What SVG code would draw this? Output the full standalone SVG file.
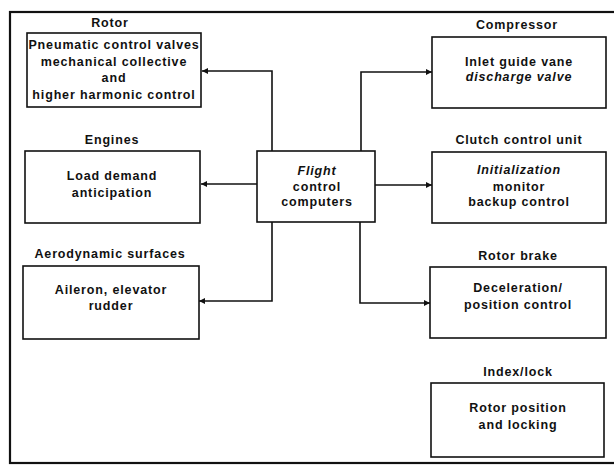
<svg xmlns="http://www.w3.org/2000/svg" width="614" height="465" viewBox="0 0 614 465">
<style>
.box{fill:#fff;stroke:#111;stroke-width:1.6}
.frame{fill:none;stroke:#111;stroke-width:2.2}
.conn{fill:none;stroke:#111;stroke-width:1.6}
text{font-family:"Liberation Sans",Arial,Helvetica,sans-serif;font-weight:bold;font-size:12.5px;letter-spacing:0.85px;fill:#111;text-anchor:middle;dominant-baseline:central}
.it{font-style:italic}
</style>
<defs>
<marker id="ah" viewBox="0 0 10 10" refX="10" refY="5" markerWidth="10" markerHeight="6" markerUnits="userSpaceOnUse" orient="auto">
<path d="M0,0 L10,5 L0,10 z" fill="#111"/>
</marker>
</defs>
<rect x="10" y="12" width="612" height="451" class="frame"/>
<g id="connectors">
<path class="conn" d="M272,151 V71 H202" marker-end="url(#ah)"/>
<path class="conn" d="M257,184 H201" marker-end="url(#ah)"/>
<path class="conn" d="M272,222 V301 H199" marker-end="url(#ah)"/>
<path class="conn" d="M361,151 V72 H432" marker-end="url(#ah)"/>
<path class="conn" d="M375,185 H432" marker-end="url(#ah)"/>
<path class="conn" d="M360,222 V303 H430" marker-end="url(#ah)"/>
</g>
<g id="rotor">
<text x="110" y="23">Rotor</text>
<rect class="box" x="27" y="33" width="174" height="74"/>
<text x="114" y="45">Pneumatic control valves</text>
<text x="114" y="62">mechanical collective</text>
<text x="114" y="78">and</text>
<text x="114" y="95">higher harmonic control</text>
</g>
<g id="engines">
<text x="112" y="140">Engines</text>
<rect class="box" x="25" y="151" width="175" height="72"/>
<text x="112" y="176">Load demand</text>
<text x="112" y="193">anticipation</text>
</g>
<g id="aero">
<text x="110" y="254">Aerodynamic surfaces</text>
<rect class="box" x="23" y="266" width="176" height="73"/>
<text x="111" y="290">Aileron, elevator</text>
<text x="111" y="306">rudder</text>
</g>
<g id="fcc">
<rect class="box" x="257" y="151" width="118" height="71"/>
<text class="it" x="317" y="171">Flight</text>
<text x="317" y="187">control</text>
<text x="317" y="202">computers</text>
</g>
<g id="compressor">
<text x="517" y="25">Compressor</text>
<rect class="box" x="432" y="37" width="174" height="71"/>
<text x="519" y="62">Inlet guide vane</text>
<text class="it" x="519" y="77">discharge valve</text>
</g>
<g id="clutch">
<text x="519" y="140">Clutch control unit</text>
<rect class="box" x="432" y="152" width="174" height="71"/>
<text class="it" x="519" y="170">Initialization</text>
<text x="519" y="187">monitor</text>
<text x="519" y="202">backup control</text>
</g>
<g id="rotorbrake">
<text x="518" y="256">Rotor brake</text>
<rect class="box" x="430" y="267" width="176" height="71"/>
<text x="518" y="288">Deceleration/</text>
<text x="518" y="305">position control</text>
</g>
<g id="indexlock">
<text x="518" y="372">Index/lock</text>
<rect class="box" x="431" y="383" width="173" height="74"/>
<text x="518" y="408">Rotor position</text>
<text x="518" y="425">and locking</text>
</g>
</svg>
